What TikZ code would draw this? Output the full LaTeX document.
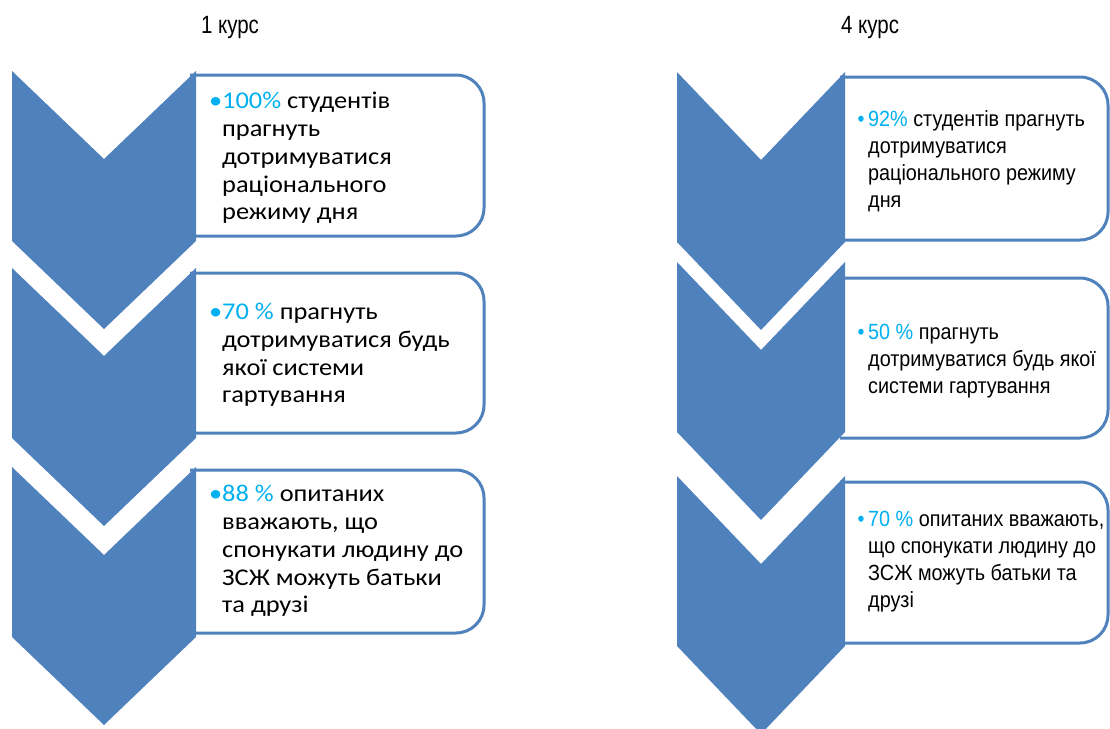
\documentclass[tikz,border=0pt]{standalone}
\usepackage{fontspec}
\setmainfont{Carlito}[FakeStretch=1.1]
\newfontfamily\narrowfont[FakeStretch=0.82]{Liberation Sans}
\newfontfamily\boxfont[FakeStretch=0.9]{Liberation Sans}
\definecolor{chevblue}{HTML}{4F81BD}
\definecolor{pctcyan}{HTML}{00B0F0}
\newcommand{\pct}[1]{{\color{pctcyan}#1}}
\tikzset{
  chevron/.style={fill=chevblue},
  listbox/.style={draw=chevblue, line width=3pt, fill=white, rounded corners=28pt},
  lefttext/.style={anchor=west, align=left, inner sep=0pt, font=\fontsize{24}{27.8}\selectfont},
  righttext/.style={anchor=west, align=left, inner sep=0pt, font=\boxfont\fontsize{22}{27}\selectfont},
  heading/.style={font=\narrowfont\fontsize{25}{30}\selectfont}
}
\begin{document}
\begin{tikzpicture}[x=1pt,y=-1pt]
  \useasboundingbox (0,0) rectangle (1110,728);
  \node[heading] (h1) at (230,27) {1 курс};
  \node[heading] (h4) at (870,27) {4 курс};
  % boxes
  \foreach \t/\b in {75/236,273/433,470/633}{
    \draw[listbox] (190,\t) -- (484,\t) -- (484,\b) -- (190,\b);
  }
  \foreach \t/\b in {77/240,278/438,482/643}{
    \draw[listbox] (840,\t) -- (1108,\t) -- (1108,\b) -- (840,\b);
  }
  % chevrons
  \foreach \t in {71,268,467}{
    \fill[chevron] (12,\t) -- (104,\t+88) -- (196,\t) -- (196,\t+170) -- (104,\t+258) -- (12,\t+170) -- cycle;
  }
  \foreach \t in {72,262,476}{
    \fill[chevron] (677,\t) -- (761,\t+88) -- (845,\t) -- (845,\t+170) -- (761,\t+258) -- (677,\t+170) -- cycle;
  }
  % texts
  \node[lefttext] (l1) at (222,158) {\llap{\pct{\textbullet}}\pct{100\%} студентів\\прагнуть\\дотримуватися\\раціонального\\режиму дня};
  \node[lefttext] (l2) at (222,355) {\llap{\pct{\textbullet}}\pct{70 \%} прагнуть\\дотримуватися будь\\якої системи\\гартування};
  \node[lefttext] (l3) at (222,551) {\llap{\pct{\textbullet}}\pct{88 \%} опитаних\\вважають, що\\спонукати людину до\\ЗСЖ можуть батьки\\та друзі};
  \node[righttext] (r1) at (868,161) {\llap{\pct{\textbullet}\,}\pct{92\%} студентів прагнуть\\дотримуватися\\раціонального режиму\\дня};
  \node[righttext] (r2) at (868,361) {\llap{\pct{\textbullet}\,}\pct{50 \%} прагнуть\\дотримуватися будь якої\\системи гартування};
  \node[righttext] (r3) at (868,562) {\llap{\pct{\textbullet}\,}\pct{70 \%} опитаних вважають,\\що спонукати людину до\\ЗСЖ можуть батьки та\\друзі};
\end{tikzpicture}
\end{document}
